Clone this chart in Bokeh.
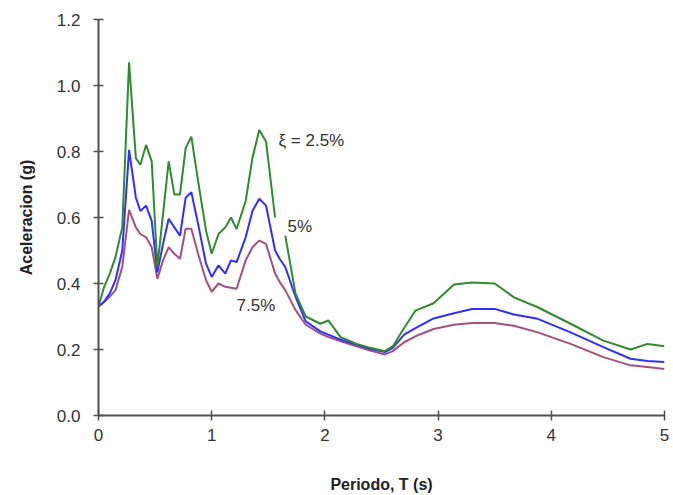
import math
from bokeh.plotting import figure
from bokeh.models import ColumnDataSource, NumeralTickFormatter, FixedTicker, Label
from bokeh.embed import file_html
from bokeh.resources import INLINE

# Period (s)
period = [0, 0.05, 0.1, 0.15, 0.21, 0.27, 0.33, 0.37, 0.42, 0.47, 0.52, 0.57, 0.62, 0.67,
          0.72, 0.77, 0.82, 0.88, 0.95, 1.0, 1.06, 1.12, 1.17, 1.22, 1.3, 1.36, 1.42, 1.48,
          1.56, 1.60, 1.65, 1.74, 1.83, 1.96, 2.03, 2.14, 2.28, 2.4, 2.53, 2.6, 2.7, 2.8,
          2.96, 3.14, 3.3, 3.5, 3.67, 3.88, 4.17, 4.46, 4.7, 4.85, 5.0]

nan = float("nan")
# Spectral acceleration (g), damping 2.5% (gap near T=1.6 where the "5%" label sits)
accel_25 = [0.33, 0.39, 0.43, 0.48, 0.57, 1.07, 0.78, 0.76, 0.82, 0.77, 0.45, 0.61, 0.77, 0.67,
            0.67, 0.81, 0.845, 0.71, 0.56, 0.49, 0.55, 0.57, 0.60, 0.565, 0.65, 0.78, 0.865, 0.83,
            0.60, nan, 0.545, 0.37, 0.30, 0.278, 0.288, 0.237, 0.217, 0.205, 0.195, 0.21, 0.265, 0.318,
            0.34, 0.397, 0.403, 0.40, 0.358, 0.328, 0.278, 0.227, 0.20, 0.217, 0.21]
# damping 5%
accel_5 = [0.33, 0.345, 0.37, 0.41, 0.50, 0.805, 0.66, 0.62, 0.636, 0.59, 0.434, 0.52, 0.596, 0.57,
           0.545, 0.66, 0.677, 0.58, 0.46, 0.42, 0.455, 0.43, 0.47, 0.465, 0.54, 0.62, 0.657, 0.636,
           0.50, 0.475, 0.45, 0.36, 0.285, 0.255, 0.245, 0.23, 0.215, 0.202, 0.192, 0.205, 0.245, 0.265,
           0.294, 0.31, 0.323, 0.323, 0.306, 0.293, 0.252, 0.207, 0.172, 0.165, 0.162]
# damping 7.5%
accel_75 = [0.33, 0.345, 0.36, 0.38, 0.45, 0.623, 0.57, 0.55, 0.54, 0.51, 0.414, 0.47, 0.51, 0.49,
            0.475, 0.566, 0.566, 0.49, 0.41, 0.375, 0.40, 0.39, 0.387, 0.384, 0.47, 0.51, 0.53, 0.52,
            0.43, 0.405, 0.38, 0.32, 0.275, 0.248, 0.238, 0.225, 0.21, 0.197, 0.185, 0.195, 0.222, 0.24,
            0.262, 0.275, 0.28, 0.28, 0.272, 0.252, 0.217, 0.177, 0.152, 0.147, 0.141]

x_ticks = [0, 1, 2, 3, 4, 5]
y_ticks = [0.0, 0.2, 0.4, 0.6, 0.8, 1.0, 1.2]

labels = [("ξ = 2.5%", 1.59, 0.833), ("5%", 1.67, 0.573), ("7.5%", 1.22, 0.333)]

src = ColumnDataSource(dict(t=period, a25=accel_25, a5=accel_5, a75=accel_75))

p = figure(frame_width=566, frame_height=396, x_range=(0, 5), y_range=(0, 1.2),
           output_backend="svg", toolbar_location=None,
           min_border_left=98, min_border_right=9, min_border_top=19, min_border_bottom=80)
p.outline_line_color = None
p.xgrid.visible = False
p.ygrid.visible = False

p.line("t", "a75", source=src, color="#a3507e", line_width=2)
p.line("t", "a5", source=src, color="#2f2fff", line_width=2)
p.line("t", "a25", source=src, color="#2e8b2e", line_width=2)

font = "Liberation Sans"
for ax in (p.xaxis[0], p.yaxis[0]):
    ax.axis_line_color = "#505050"
    ax.axis_line_width = 2
    ax.major_tick_line_color = "#505050"
    ax.major_tick_line_width = 1.5
    ax.major_tick_in = 5
    ax.major_tick_out = 5
    ax.minor_tick_line_color = None
    ax.major_label_text_font = font
    ax.major_label_text_font_size = "17px"
    ax.major_label_text_color = "#333333"
    ax.axis_label_text_font = font
    ax.axis_label_text_font_size = "16px"
    ax.axis_label_text_font_style = "bold"
    ax.axis_label_text_color = "#222222"

p.xaxis.ticker = FixedTicker(ticks=x_ticks)
p.yaxis.ticker = FixedTicker(ticks=y_ticks)
p.yaxis.formatter = NumeralTickFormatter(format="0.0")
p.xaxis.major_label_standoff = 8
p.yaxis.major_label_standoff = 13
p.xaxis.axis_label = "Periodo, T (s)"
p.yaxis.axis_label = "Aceleracion (g)"
p.xaxis.axis_label_standoff = 32
p.yaxis.axis_label_standoff = 19

for txt, tx, ty in labels:
    p.add_layout(Label(x=tx, y=ty, text=txt, text_font=font, text_font_size="17px",
                       text_color="#333333", text_baseline="middle", text_align="left"))

open("out.html", "w").write(file_html(p, INLINE))
